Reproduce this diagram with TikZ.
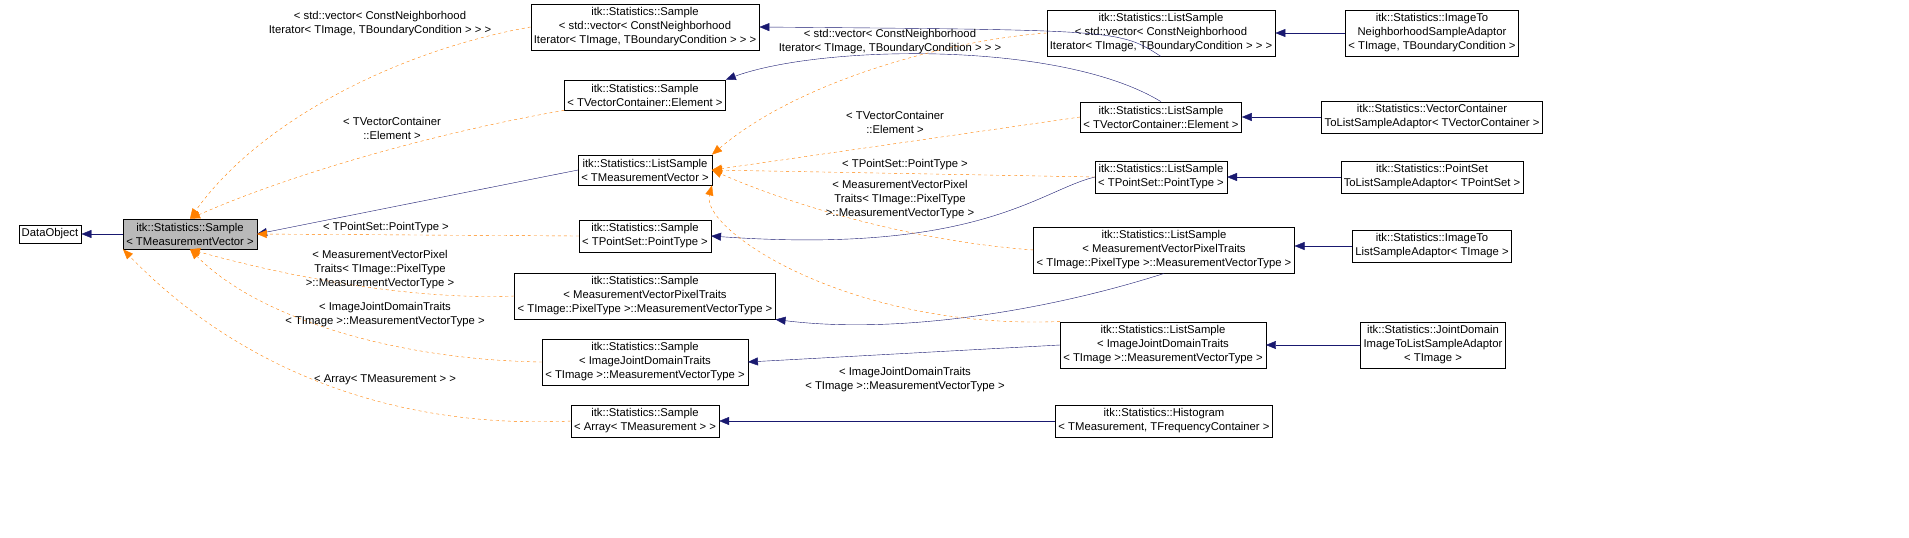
\documentclass[tikz,border=0pt]{standalone}
\usepackage{fontspec}
\setmainfont{Liberation Sans}
\usetikzlibrary{arrows.meta}
\tikzset{
  cls/.style={draw, fill=white, align=center, inner xsep=3pt, inner ysep=4pt, font=\fontsize{11.3}{14}\selectfont},
  inh/.style={draw={rgb,255:red,25;green,25;blue,112}, -{Triangle[length=10pt,width=8pt]}},
  tpl/.style={draw=orange, dashed, -{Triangle[length=10pt,width=8pt]}},
  lbl/.style={align=center, inner sep=0pt, font=\fontsize{11.3}{14}\selectfont}
}
\begin{document}
\begin{tikzpicture}[x=1pt,y=-1pt]
    \useasboundingbox (0,0) rectangle (1909,538);

    % Classes
    \node[cls] (dobj) at (50,234) {DataObject};
    \node[cls, fill=gray!55] (smp) at (190,234) {itk::Statistics::Sample\\< TMeasurementVector >};
    \node[cls] (smpvec) at (645,27) {itk::Statistics::Sample\\< std::vector< ConstNeighborhood\\Iterator< TImage, TBoundaryCondition > > >};
    \node[cls] (smpvc) at (645,95) {itk::Statistics::Sample\\< TVectorContainer::Element >};
    \node[cls] (ls) at (645,170) {itk::Statistics::ListSample\\< TMeasurementVector >};
    \node[cls] (smpps) at (645,236) {itk::Statistics::Sample\\< TPointSet::PointType >};
    \node[cls] (smppix) at (645,296) {itk::Statistics::Sample\\< MeasurementVectorPixelTraits\\< TImage::PixelType >::MeasurementVectorType >};
    \node[cls] (smpjd) at (645,362) {itk::Statistics::Sample\\< ImageJointDomainTraits\\< TImage >::MeasurementVectorType >};
    \node[cls] (smparr) at (645,421) {itk::Statistics::Sample\\< Array< TMeasurement > >};

    \node[cls] (lsvec) at (1161,33) {itk::Statistics::ListSample\\< std::vector< ConstNeighborhood\\Iterator< TImage, TBoundaryCondition > > >};
    \node[cls] (lsvc) at (1161,117) {itk::Statistics::ListSample\\< TVectorContainer::Element >};
    \node[cls] (lsps) at (1161,177) {itk::Statistics::ListSample\\< TPointSet::PointType >};
    \node[cls] (lspix) at (1164,250) {itk::Statistics::ListSample\\< MeasurementVectorPixelTraits\\< TImage::PixelType >::MeasurementVectorType >};
    \node[cls] (lsjd) at (1163,345) {itk::Statistics::ListSample\\< ImageJointDomainTraits\\< TImage >::MeasurementVectorType >};
    \node[cls] (hist) at (1164,421) {itk::Statistics::Histogram\\< TMeasurement, TFrequencyContainer >};

    \node[cls] (adnb) at (1432,33) {itk::Statistics::ImageTo\\NeighborhoodSampleAdaptor\\< TImage, TBoundaryCondition >};
    \node[cls] (advc) at (1432,117) {itk::Statistics::VectorContainer\\ToListSampleAdaptor< TVectorContainer >};
    \node[cls] (adps) at (1432,177) {itk::Statistics::PointSet\\ToListSampleAdaptor< TPointSet >};
    \node[cls] (adimg) at (1432,246) {itk::Statistics::ImageTo\\ListSampleAdaptor< TImage >};
    \node[cls] (adjd) at (1433,345) {itk::Statistics::JointDomain\\ImageToListSampleAdaptor\\< TImage >};

    % Inheritance
    \draw[inh] (smp) -- (dobj);
    \draw[inh] (ls.west) -- (smp.east);
    \draw[inh] (lsvec.south) .. controls (1120,30) .. (smpvec.east);
    \draw[inh] (lsvc.north) .. controls (1060,40) and (820,45) .. (smpvc.north east);
    \draw[inh] (lsps.west) .. controls (1040,190) and (980,255) .. (smpps.east);
    \draw[inh] (lspix.south) .. controls (1050,310) and (900,335) .. (smppix.south east);
    \draw[inh] (lsjd.west) -- (smpjd.east);
    \draw[inh] (hist) -- (smparr);
    \draw[inh] (adnb) -- (lsvec);
    \draw[inh] (advc) -- (lsvc);
    \draw[inh] (adps) -- (lsps);
    \draw[inh] (adimg) -- (lspix.east |- adimg);
    \draw[inh] (adjd) -- (lsjd);

    % Template instances
    \draw[tpl] (smpvec.west) .. controls (400,50) and (260,120) .. (smp.north);
    \draw[tpl] (smpvc.south west) .. controls (450,130) and (300,170) .. (smp.north);
    \draw[tpl] (smpps.west) -- (smp.east);
    \draw[tpl] (smppix.west) .. controls (420,300) and (300,280) .. (smp.south);
    \draw[tpl] (smpjd.west) .. controls (400,360) and (260,320) .. (smp.south);
    \draw[tpl] (smparr.west) .. controls (380,430) and (230,360) .. (smp.south west);
    \draw[tpl] (lsvec.west) .. controls (950,40) and (800,80) .. (ls.north east);
    \draw[tpl] (lsvc.west) -- (ls.east);
    \draw[tpl] (lsps.west) -- (ls.east);
    \draw[tpl] (lspix.west) .. controls (900,240) and (780,200) .. (ls.east);
    \draw[tpl] (lsjd.north west) .. controls (850,330) and (700,230) .. (ls.south east);

    % Labels
    \node[lbl] (l1) at (380,24) {< std::vector< ConstNeighborhood\\Iterator< TImage, TBoundaryCondition > > >};
    \node[lbl] (l2) at (392,128) {< TVectorContainer\\::Element >};
    \node[lbl] (l3) at (386,228) {< TPointSet::PointType >};
    \node[lbl] (l4) at (380,270) {< MeasurementVectorPixel\\Traits< TImage::PixelType\\>::MeasurementVectorType >};
    \node[lbl] (l5) at (385,315) {< ImageJointDomainTraits\\< TImage >::MeasurementVectorType >};
    \node[lbl] (l6) at (385,380) {< Array< TMeasurement > >};
    \node[lbl] (l7) at (890,42) {< std::vector< ConstNeighborhood\\Iterator< TImage, TBoundaryCondition > > >};
    \node[lbl] (l8) at (895,122) {< TVectorContainer\\::Element >};
    \node[lbl] (l9) at (905,165) {< TPointSet::PointType >};
    \node[lbl] (l10) at (900,200) {< MeasurementVectorPixel\\Traits< TImage::PixelType\\>::MeasurementVectorType >};
    \node[lbl] (l11) at (905,380) {< ImageJointDomainTraits\\< TImage >::MeasurementVectorType >};
\end{tikzpicture}
\end{document}
